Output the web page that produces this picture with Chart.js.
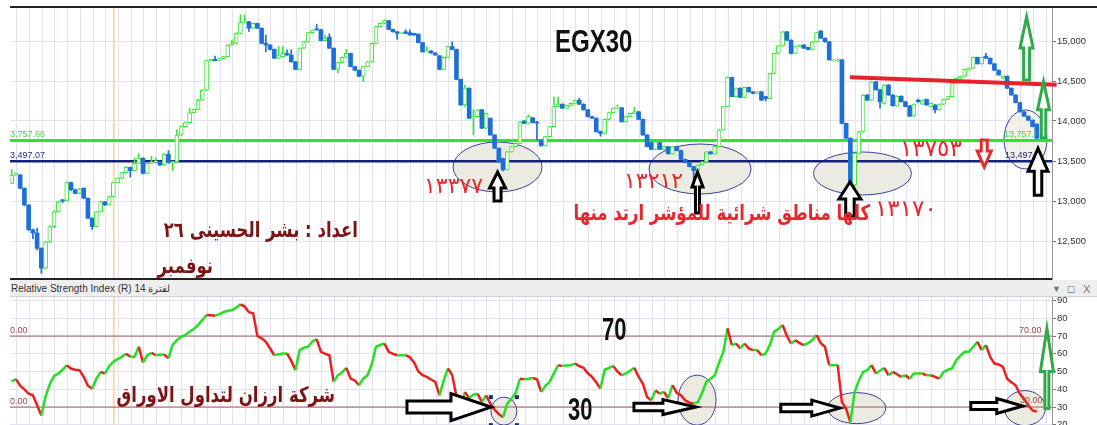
<!DOCTYPE html>
<html>
<head>
<meta charset="utf-8">
<script src="https://cdn.jsdelivr.net/npm/chart.js@4.4.1/dist/chart.umd.min.js"></script>
<style>
  body { margin:0; width:1097px; height:425px; overflow:hidden; background:#fff; position:relative; font-family:"Liberation Sans", Arial, sans-serif; }
  canvas { position:absolute; left:0; }
  .abs { position:absolute; white-space:nowrap; line-height:1; }
  .ar { font-family:"DejaVu Sans", sans-serif; direction:rtl; font-weight:bold; font-size:16.5px; transform:scaleY(1.3); transform-origin:100% 0; }
  .num { position:absolute; white-space:nowrap; line-height:1; font-family:"DejaVu Sans", sans-serif; color:#e8262b; font-size:22px; }
  .clip { position:absolute; overflow:hidden; }
  .lbl { position:absolute; white-space:nowrap; line-height:1; font-size:9px; }
</style>
</head>
<body>
<canvas id="price" width="1097" height="280" style="top:0"></canvas>
<canvas id="rsi" width="1097" height="140" style="top:297px"></canvas>

<div class="abs" style="left:10px;top:6px;width:1087px;height:2px;background:#222"></div>
<div class="abs" style="left:10px;top:278px;width:1042px;height:2px;background:#222"></div>
<div class="abs" style="left:10px;top:280px;width:1087px;height:16px;background:#eeeeee;border-bottom:1px solid #d2d2d2"></div>
<div class="abs" style="left:11px;top:284px;font-size:10px;color:#333">Relative Strength Index (R) 14 لفترة</div>
<div class="abs" style="left:1052px;top:285px;font-size:9px;color:#777">▼</div>
<div class="abs" style="left:1067px;top:284px;font-size:10px;color:#777">◻</div>
<div class="abs" style="left:1083px;top:284px;font-size:11px;color:#777">X</div>

<!-- level labels -->
<div class="clip" style="left:10px;top:0;width:60px;height:425px">
  <div class="lbl" style="left:-5px;top:129.5px;color:#3fdc3f">13,757.66</div>
  <div class="lbl" style="left:-5px;top:150.5px;color:#26307e">13,497.07</div>
  <div class="lbl" style="left:-5px;top:325.5px;color:#a04848">70.00</div>
  <div class="lbl" style="left:-5px;top:396.5px;color:#a04848">30.00</div>
</div>
<div class="clip" style="left:1003px;top:0;width:33px;height:300px">
  <div class="lbl" style="left:1px;top:129.5px;color:#3fdc3f">13,757.66</div>
  <div class="lbl" style="left:2px;top:150.5px;color:#26307e">13,497.07</div>
</div>
<div class="lbl" style="left:1019px;top:325.5px;color:#a04848">70.00</div>
<div class="lbl" style="left:1020px;top:396px;color:#a04848">30.00</div>

<!-- notes -->
<div class="abs" style="left:555px;top:24px;font:bold 24px 'Liberation Sans';transform:scaleY(1.27);transform-origin:0 0;color:#111">EGX30</div>
<div class="abs" style="left:602px;top:311px;font:bold 22px 'Liberation Sans';transform:scaleY(1.45);transform-origin:0 0;color:#111">70</div>
<div class="abs" style="left:568px;top:391px;font:bold 22px 'Liberation Sans';transform:scaleY(1.45);transform-origin:0 0;color:#111">30</div>

<div class="num" style="left:424px;top:175px">١٣٣٧٧</div>
<div class="num" style="left:624px;top:170px">١٣٢١٢</div>
<div class="num" style="left:875px;top:197px;font-size:23px">١٣١٧٠</div>
<div class="num" style="left:900px;top:137px;font-size:23px">١٣٧٥٣</div>

<div class="abs ar" style="right:227px;top:203px;color:#e8262b">كلها مناطق شرائية للمؤشر ارتد منها</div>
<div class="clip" style="left:0;top:0;width:1097px;height:278px">
  <div class="abs ar" style="right:739px;top:220px;color:#7d1414">اعداد : بشر الحسينى ٢٦</div>
  <div class="abs ar" style="right:884px;top:256px;color:#7d1414">نوفمبر</div>
</div>
<div class="abs ar" style="right:762px;top:385px;color:#7d1414">شركة ارزان لتداول الاوراق</div>

<script>
// EGX30 daily candles
const open = [
  13220,13330,13325,13160,12950,12640,12600,12410,12160,12490,
  12680,12865,13015,13000,13230,13140,13095,13160,13035,12785,
  12680,12865,12990,12950,13055,13230,13285,13355,13420,13380,
  13470,13535,13345,13470,13490,13490,13450,13585,13480,13490,
  13825,13930,13980,14105,14145,14260,14385,14755,14770,14760,
  14780,14805,14950,14970,15095,15230,15240,15160,15220,15160,
  14970,14950,14895,14785,14805,14845,14825,14740,14645,14910,
  14990,15105,15150,15140,15005,15050,14910,14645,14730,14795,
  14845,14680,14635,14560,14680,14740,14970,15180,15220,15255,
  15145,15115,15095,15115,15105,15095,15085,14980,14865,14875,
  14850,14815,14645,14795,14930,14895,14520,14200,14410,14035,
  14055,14140,13910,14035,13825,13660,13530,13390,13615,13680,
  13720,14000,13970,14040,13985,13760,13690,13805,13930,14180,
  14210,14160,14195,14220,14260,14210,14140,14055,14035,13870,
  13845,14020,14105,14160,14165,13990,14055,14095,14115,14020,
  13825,13730,13645,13730,13645,13680,13590,13680,13630,13520,
  13480,13430,13390,13450,13490,13615,13590,13680,13890,14180,
  14545,14305,14410,14295,14420,14365,14345,14365,14305,14280,
  14595,14845,14940,15115,15010,14845,14930,14950,14920,14895,
  14990,15125,15035,14990,14750,14750,14765,13970,13785,13200,
  13595,13865,14325,14260,14490,14390,14220,14450,14325,14190,
  14310,14240,14190,14060,14260,14210,14270,14180,14200,14140,
  14210,14270,14305,14470,14535,14560,14645,14660,14795,14715,
  14810,14785,14715,14635,14535,14560,14410,14325,14230,14115,
  14060,14010,13960
];
const high = [
  13390,13350,13330,13165,12955,12650,12660,12415,12495,12690,
  12880,13000,13020,13240,13235,13150,13160,13165,13040,12790,
  12870,13000,12995,13060,13235,13290,13360,13430,13425,13540,
  13590,13540,13480,13560,13540,13495,13595,13630,13500,13890,
  13940,13990,14160,14150,14270,14390,14760,14775,14810,14785,
  14810,14955,15010,15100,15325,15325,15245,15225,15225,15165,
  15075,14955,14900,14930,14930,14890,14890,14745,14915,14995,
  15110,15140,15210,15145,15075,15090,14915,14735,14800,14895,
  14850,14685,14640,14685,14745,14975,15185,15225,15265,15260,
  15150,15120,15110,15140,15140,15100,15090,14985,14930,14880,
  14855,14820,14800,14935,14990,14900,14525,14445,14415,14140,
  14145,14145,14100,14040,13830,13665,13535,13620,13685,13725,
  13995,14005,14075,14045,13995,13765,13810,13935,14300,14300,
  14215,14200,14225,14260,14285,14215,14145,14060,14040,13875,
  14025,14110,14165,14200,14170,14060,14100,14170,14120,14025,
  13830,13735,13745,13735,13685,13685,13685,13685,13635,13525,
  13485,13435,13455,13495,13620,13620,13685,13895,14185,14550,
  14550,14415,14415,14425,14425,14370,14370,14370,14310,14600,
  14850,14945,15120,15120,15015,14935,14955,14955,14925,14995,
  15110,15130,15040,14995,14770,14775,14770,13975,13790,13600,
  13870,14330,14330,14495,14495,14395,14455,14455,14330,14315,
  14315,14245,14195,14215,14275,14265,14275,14225,14205,14215,
  14275,14310,14475,14540,14565,14650,14665,14800,14800,14800,
  14845,14790,14720,14640,14565,14565,14415,14330,14235,14120,
  14065,14015,13965
];
const low = [
  13215,13320,13150,12940,12630,12530,12390,12095,12150,12480,
  12670,12860,12980,12995,13130,13090,13090,13030,12780,12645,
  12675,12860,12945,12945,13050,13225,13280,13350,13300,13375,
  13465,13340,13340,13465,13485,13440,13445,13470,13380,13485,
  13820,13925,13975,14100,14140,14255,14380,14750,14750,14755,
  14775,14800,14945,14965,15090,15225,15120,15155,15155,14965,
  14865,14890,14780,14780,14800,14820,14735,14640,14640,14905,
  14985,15100,15135,15000,15000,14905,14640,14605,14725,14790,
  14675,14630,14555,14490,14675,14735,14965,15175,15215,15140,
  15110,15020,15090,15090,15070,15070,14975,14860,14860,14845,
  14820,14640,14640,14790,14890,14515,14195,14180,14030,13825,
  14050,13905,13905,13820,13655,13485,13377,13385,13610,13675,
  13715,13965,13965,13975,13760,13685,13685,13800,13925,14175,
  14155,14155,14190,14215,14205,14135,14050,14030,13860,13810,
  13840,14015,14100,14155,13985,13985,14050,14090,14015,13820,
  13675,13640,13640,13640,13640,13585,13585,13625,13515,13475,
  13425,13212,13385,13445,13485,13585,13585,13675,13885,14175,
  14300,14300,14290,14290,14360,14340,14340,14255,14250,14275,
  14590,14840,14935,15005,14840,14840,14925,14905,14890,14890,
  14985,15030,14985,14760,14745,14745,13965,13780,13170,13170,
  13590,13860,14255,14255,14385,14160,14215,14320,14185,14185,
  14235,14175,14055,14055,14235,14205,14195,14175,14100,14135,
  14205,14265,14300,14465,14530,14555,14640,14655,14710,14710,
  14780,14710,14630,14570,14530,14405,14320,14225,14110,14055,
  14005,13925,13780
];
const close = [
  13325,13340,13160,12950,12640,12600,12410,12160,12490,12680,
  12865,12990,13000,13230,13140,13095,13150,13035,12785,12680,
  12865,12990,12950,13055,13230,13285,13355,13420,13380,13470,
  13535,13345,13470,13490,13500,13450,13585,13480,13490,13825,
  13930,13980,14105,14145,14260,14385,14755,14770,14755,14780,
  14805,14950,14970,15095,15230,15240,15160,15220,15160,14970,
  14950,14895,14785,14825,14845,14825,14740,14645,14910,14990,
  15105,15135,15140,15005,15035,14910,14645,14730,14795,14845,
  14680,14635,14560,14680,14740,14970,15180,15220,15255,15145,
  15115,15095,15105,15095,15075,15075,14980,14865,14875,14850,
  14825,14645,14795,14930,14895,14520,14200,14410,14035,14055,
  14140,13910,14095,13825,13660,13490,13390,13615,13680,13720,
  13990,13970,14055,13980,13975,13690,13805,13930,14180,14210,
  14160,14195,14220,14255,14210,14140,14055,14035,13865,13845,
  14020,14105,14160,14165,13990,14055,14095,14115,14020,13825,
  13680,13645,13740,13645,13680,13590,13680,13630,13520,13480,
  13430,13380,13450,13490,13615,13590,13680,13890,14180,14545,
  14305,14410,14295,14420,14365,14345,14365,14260,14280,14595,
  14845,14940,15115,15010,14845,14930,14950,14910,14895,14990,
  15105,15035,14990,14765,14765,14765,13970,13785,13200,13595,
  13865,14325,14260,14490,14390,14240,14450,14325,14190,14310,
  14240,14180,14060,14210,14240,14260,14200,14220,14140,14210,
  14270,14305,14470,14535,14560,14645,14660,14795,14715,14795,
  14785,14715,14635,14575,14560,14410,14325,14230,14115,14060,
  14010,13930,13785
];
// RSI(14), one value per candle
const rsi = [
  44.5,45.7,42,40,37.5,36.6,31,25.3,36,43,
  47.5,48.9,51,53.6,51.7,51,50.8,47,42,40.4,
  46,49.8,48.9,53,55.5,57,58.3,60,58.3,58.3,
  64,55.1,59.2,60.6,59.2,59.5,59.6,57.4,65,67.7,
  69.6,70.6,72.5,74,76.2,79,81.9,81.7,81.5,82.3,
  83.5,84.2,84.5,86,87.9,86.6,83.4,82.8,70,68.7,
  66.8,63,59.2,59.8,60.2,60.2,56,50.8,62.1,63.5,
  64,67,68.3,61.1,60,59.2,44.2,47.9,49.5,52.1,
  46,45,42.3,46,47.9,54,64,65,65.8,61.1,
  60,59.2,59.2,59.2,58,55.1,50,47.9,47,45.5,
  44.2,36.6,45,51.7,48,36,29.4,38.5,35,37,
  37.5,32.8,36.6,32,28.5,26,24.3,31.9,34.7,38,
  46,45.7,46,46.4,45.7,38.5,42,44.2,49,53.6,
  53.2,53.4,53.6,54.5,53,52.1,49,47,44,40.4,
  51,52,53.2,50,47.9,48.9,50.5,52.1,47,43.2,
  35.7,33.8,39.4,37.5,38.5,35,42.3,38,36.6,33.8,
  32.5,31.9,32.8,38,44.2,46,48,55,61.1,74.3,
  64.9,65.8,63,65.8,63,62.1,62.1,59.2,60.2,65,
  72.5,74,76.2,70,65.8,67.7,66,64.9,66,67.7,
  70.6,66,64,53.6,53.6,53.6,32.8,29,21.5,38.5,
  45,49.8,50.8,53.6,48.9,50.5,52.1,47.9,49.8,48.5,
  47,47.9,46,48.9,48.9,48.9,47.9,47.9,47,46,
  49.8,51,51.7,56.4,59,61.1,61.1,64,66.8,62.1,
  64.9,58.3,54.5,54,52.6,46,44,42.3,37.5,34.7,
  31,28.1,27.5
];
const levels = [13757.66, 13497.07];
const rsiLevels = [70, 30];
const priceTicks = [12500, 13000, 13500, 14000, 14500, 15000];
const rsiTicks = [20, 30, 40, 50, 60, 70, 80, 90];
const trendX = [197.9, 246.7];
const trendY = [14546, 14452];
const sessionBreaks = [24.1];

const X_MIN = -0.4, X_MAX = 245.6;
const GRID = '#e2e2f2';
const GREEN = '#36e836', BLUE = '#1f6fd8';
const idx = close.map((_, i) => i);
const up = i => close[i] >= open[i];

// annotation marks, anchored in data units (sizes in px)
const priceNotes = {
  ellipses: [
    { x: 114.7, y: 13425, rx: 44.5, ry: 25 },
    { x: 162.5, y: 13400, rx: 51, ry: 25 },
    { x: 200.85, y: 13344, rx: 49, ry: 21.5 },
    { x: 239.33, y: 13769, rx: 21.5, ry: 29.5, shade: 'rgba(236,235,225,0.75)' }
  ],
  arrows: [
    { x: 114.7, y: 13362, dir: 'up', len: 29, head: 16, hw: 16, sw: 7, color: '#000' },
    { x: 161.9, y: 13362, dir: 'up', len: 41, head: 15, hw: 11, sw: 4, color: '#000' },
    { x: 197.9, y: 13237, dir: 'up', len: 34, head: 17, hw: 22, sw: 8.5, color: '#000' },
    { x: 242.3, y: 13659, dir: 'up', len: 47, head: 23, hw: 20, sw: 7.5, color: '#000' },
    { x: 239.6, y: 15300, dir: 'up', len: 63, head: 31, hw: 13, sw: 6, color: '#2eaa48' },
    { x: 243.6, y: 14491, dir: 'up', len: 56, head: 28, hw: 12, sw: 4.5, color: '#2eaa48' },
    { x: 229.6, y: 13425, dir: 'down', len: 27, head: 16, hw: 14, sw: 6, color: '#e52a2a' }
  ]
};
const rsiNotes = {
  ellipses: [
    { x: 116.2, y: 27.7, rx: 13, ry: 14, handles: true },
    { x: 161.8, y: 33.9, rx: 19, ry: 25 },
    { x: 199.5, y: 29.4, rx: 29, ry: 15.5 },
    { x: 239.2, y: 29.4, rx: 20.5, ry: 17.5 }
  ],
  arrows: [
    { x: 113.15, y: 30, dir: 'right', len: 84, head: 40, hw: 27, sw: 12, color: '#000' },
    { x: 161.54, y: 30, dir: 'right', len: 62, head: 33, hw: 15, sw: 7.5, color: '#000' },
    { x: 195.5, y: 29.4, dir: 'right', len: 59, head: 28, hw: 16, sw: 7.5, color: '#000' },
    { x: 238.7, y: 30.6, dir: 'right', len: 52, head: 26, hw: 15, sw: 7, color: '#000' },
    { x: 244.4, y: 74.3, dir: 'up', len: 80, head: 43, hw: 13, sw: 4, color: '#2eaa48' }
  ]
};

function drawArrow(ctx, tx, ty, a) {
  const h = a.hw / 2, s = a.sw / 2, L = a.len, H = a.head;
  const pts = [[0, 0], [h, H], [s, H], [s, L], [-s, L], [-s, H], [-h, H]];
  const map = {
    up: ([u, v]) => [tx + u, ty + v],
    down: ([u, v]) => [tx + u, ty - v],
    right: ([u, v]) => [tx - v, ty + u]
  }[a.dir];
  ctx.beginPath();
  pts.map(map).forEach(([x, y], i) => i ? ctx.lineTo(x, y) : ctx.moveTo(x, y));
  ctx.closePath();
  ctx.fillStyle = '#fff';
  ctx.fill();
  ctx.lineWidth = 3;
  ctx.lineJoin = 'miter';
  ctx.strokeStyle = a.color;
  ctx.stroke();
}

function makeNotes(spec) {
  return {
    id: 'notes',
    beforeDatasetsDraw(chart) {
      const { ctx, chartArea: a, scales: { x, y } } = chart;
      ctx.save();
      ctx.beginPath();
      ctx.rect(a.left, a.top, a.width, a.height);
      ctx.clip();
      sessionBreaks.forEach(b => {
        const px = x.getPixelForValue(b);
        ctx.strokeStyle = '#f8d9b4';
        ctx.lineWidth = 2;
        ctx.beginPath();
        ctx.moveTo(px, a.top);
        ctx.lineTo(px, a.bottom);
        ctx.stroke();
      });
      spec.ellipses.forEach(e => {
        const cx = x.getPixelForValue(e.x), cy = y.getPixelForValue(e.y);
        ctx.beginPath();
        ctx.ellipse(cx, cy, e.rx, e.ry, 0, 0, Math.PI * 2);
        ctx.fillStyle = e.shade || '#ecebe1';
        ctx.fill();
        ctx.lineWidth = 1;
        ctx.strokeStyle = '#3b3f9b';
        ctx.stroke();
        if (e.handles) {
          ctx.fillStyle = '#1c2a6b';
          [[-1, -1], [1, -1], [-1, 1], [1, 1]].forEach(([sx, sy]) =>
            ctx.fillRect(cx + sx * e.rx - 2, cy + sy * e.ry - 2, 4, 4));
        }
      });
      ctx.restore();
    },
    afterDatasetsDraw(chart) {
      const { ctx, scales: { x, y } } = chart;
      ctx.save();
      spec.arrows.forEach(a => drawArrow(ctx, x.getPixelForValue(a.x), y.getPixelForValue(a.y), a));
      ctx.restore();
    }
  };
}

const xScale = {
  type: 'linear', min: X_MIN, max: X_MAX, offset: false,
  grid: { color: GRID, drawTicks: false, offset: false },
  border: { display: false },
  ticks: { display: false },
  afterBuildTicks: s => {
    s.ticks = [];
    for (let v = 1.2; v < X_MAX; v += 3) s.ticks.push({ value: v });
  },
  afterFit: s => { s.height = 0; s.paddingLeft = 0; s.paddingRight = 0; }
};
const yAxisFit = s => { s.width = 45; s.paddingTop = 0; s.paddingBottom = 0; };
const yScale = (min, max, list, fmt) => ({
  position: 'right', min, max,
  grid: { color: GRID, tickColor: '#777', tickLength: 4 },
  border: { color: '#999' },
  ticks: { color: '#333', padding: 1, font: { family: 'Liberation Sans', size: 9.5 }, callback: fmt },
  afterBuildTicks: s => { s.ticks = list.map(v => ({ value: v })); },
  afterFit: yAxisFit
});

new Chart(document.getElementById('price'), {
  type: 'bar',
  data: {
    datasets: [
      { type: 'line', data: [{ x: X_MIN, y: levels[0] }, { x: X_MAX, y: levels[0] }], borderColor: '#22ec22', borderWidth: 3, pointRadius: 0, order: 6 },
      { type: 'line', data: [{ x: X_MIN, y: levels[1] }, { x: X_MAX, y: levels[1] }], borderColor: '#16207d', borderWidth: 2.5, pointRadius: 0, order: 6 },
      {
        data: idx.map(i => ({ x: i, y: [low[i], high[i]] })),
        barThickness: 1, grouped: false, order: 5,
        backgroundColor: c => up(c.dataIndex) ? GREEN : BLUE
      },
      {
        data: idx.map(i => ({ x: i, y: [open[i], close[i]] })),
        barThickness: 4, minBarLength: 1, grouped: false, order: 4, borderSkipped: false,
        backgroundColor: c => up(c.dataIndex) ? '#fff' : BLUE,
        borderColor: c => up(c.dataIndex) ? GREEN : BLUE,
        borderWidth: c => up(c.dataIndex) ? 1 : 0
      },
      {
        type: 'line', data: trendX.map((v, i) => ({ x: v, y: trendY[i] })),
        borderColor: '#e8222a', borderWidth: 4, pointRadius: 0, order: 1,
        clip: { left: 0, top: 0, right: 8, bottom: 0 }
      }
    ]
  },
  options: {
    responsive: false, animation: false, events: [],
    layout: { padding: { left: 10, top: 7, right: 0, bottom: 1 } },
    plugins: { legend: { display: false }, tooltip: { enabled: false } },
    scales: {
      x: xScale,
      y: yScale(12025, 15425, priceTicks, v => v.toLocaleString('en-US'))
    }
  },
  plugins: [makeNotes(priceNotes)]
});

new Chart(document.getElementById('rsi'), {
  type: 'line',
  data: {
    datasets: [
      ...rsiLevels.map(v => ({ data: [{ x: X_MIN, y: v }, { x: X_MAX, y: v }], borderColor: '#a85858', borderWidth: 1, pointRadius: 0, order: 3 })),
      {
        data: rsi.map((v, i) => ({ x: i, y: v })),
        borderWidth: 2.5, pointRadius: 0, order: 1, borderColor: '#22e022',
        segment: { borderColor: c => c.p1.parsed.y >= c.p0.parsed.y ? '#22e022' : '#ee1f1f' }
      }
    ]
  },
  options: {
    responsive: false, animation: false, events: [],
    layout: { padding: { left: 10, top: 0, right: 0, bottom: 0 } },
    plugins: { legend: { display: false }, tooltip: { enabled: false } },
    scales: {
      x: xScale,
      y: yScale(13.13, 92, rsiTicks, v => String(v))
    }
  },
  plugins: [makeNotes(rsiNotes)]
});
</script>
</body>
</html>
